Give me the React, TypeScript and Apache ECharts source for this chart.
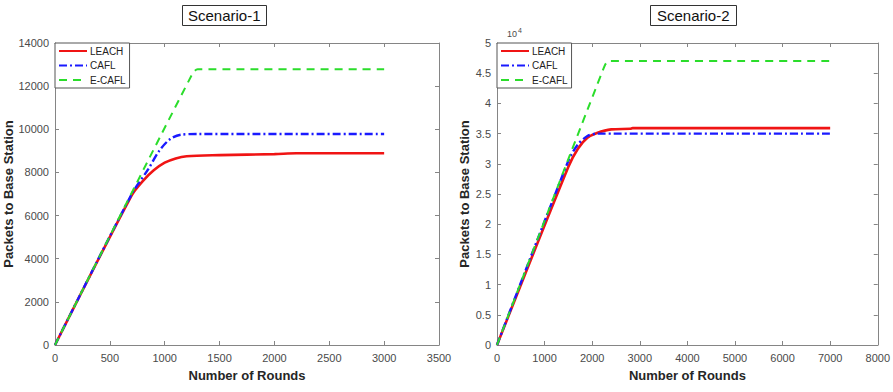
import React, { useEffect, useRef } from "react";
import * as echarts from "echarts";

// Scenario-1 data (rounds, packets)
const s1LeachRounds = [0, 700, 800, 900, 1000, 1100, 1200, 1500, 2000, 2200, 3000];
const s1LeachPackets = [0, 6950, 7600, 8100, 8450, 8650, 8750, 8800, 8850, 8890, 8890];
const s1CaflRounds = [0, 700, 850, 950, 1050, 1150, 1300, 3000];
const s1CaflPackets = [0, 7000, 8150, 9000, 9550, 9750, 9780, 9780];
const s1EcaflRounds = [0, 1250, 1300, 3000];
const s1EcaflPackets = [0, 12550, 12780, 12780];

// Scenario-2 data (rounds, packets)
const s2LeachRounds = [0, 1500, 1700, 1900, 2100, 2400, 2800, 2850, 7000];
const s2LeachPackets = [0, 29500, 32500, 34300, 35100, 35700, 35800, 35900, 35900];
const s2CaflRounds = [0, 1500, 1700, 1900, 2100, 7000];
const s2CaflPackets = [0, 30500, 33200, 34600, 35000, 35000];
const s2EcaflRounds = [0, 2250, 2350, 7000];
const s2EcaflPackets = [0, 46000, 47000, 47000];

const seriesNames = ["LEACH", "CAFL", "E-CAFL"];
const titles = ["Scenario-1", "Scenario-2"];

const zip = (xs: number[], ys: number[]) => xs.map((x, i) => [x, ys[i]]);

const AXIS_COLOR = "#858585";
const LABEL_COLOR = "#4a4a4a";
const FONT = "Arial, 'Liberation Sans', sans-serif";

const styles = [
  { color: "#f01414", type: "solid" as any, width: 2.6 },
  { color: "#1a1aff", type: [8, 3, 2, 3] as any, width: 2.4 },
  { color: "#2bdd2b", type: [8, 6] as any, width: 2 },
];

export default function App() {
  const ref = useRef<HTMLDivElement>(null);
  useEffect(() => {
    if (!ref.current) return;
    const chart = echarts.init(ref.current, undefined, { renderer: "svg" });

    const mkX = (gridIndex: number, max: number, interval: number, top: boolean) => ({
      type: "value",
      gridIndex,
      min: 0,
      max,
      interval,
      position: top ? "top" : "bottom",
      name: top ? "" : "Number of Rounds",
      nameLocation: "middle",
      nameGap: 24,
      nameTextStyle: { fontFamily: FONT, fontWeight: "bold", fontSize: 13, color: "#262626" },
      axisLine: { show: true, onZero: false, lineStyle: { color: AXIS_COLOR, width: 1 } },
      axisTick: { show: true, inside: true, length: 4, lineStyle: { color: AXIS_COLOR } },
      axisLabel: {
        show: !top,
        fontFamily: FONT,
        fontSize: 11,
        color: LABEL_COLOR,
        margin: 7,
        formatter: (v: number) => String(v),
      },
      splitLine: { show: false },
    });

    const mkY = (
      gridIndex: number,
      max: number,
      interval: number,
      right: boolean,
      nameGap: number,
      fmt?: (v: number) => string
    ) => ({
      type: "value",
      gridIndex,
      min: 0,
      max,
      interval,
      position: right ? "right" : "left",
      name: right ? "" : "Packets to Base Station",
      nameLocation: "middle",
      nameGap,
      nameTextStyle: { fontFamily: FONT, fontWeight: "bold", fontSize: 13, color: "#262626" },
      axisLine: { show: true, onZero: false, lineStyle: { color: AXIS_COLOR, width: 1 } },
      axisTick: { show: true, inside: true, length: 4, lineStyle: { color: AXIS_COLOR } },
      axisLabel: {
        show: !right,
        fontFamily: FONT,
        fontSize: 11,
        color: LABEL_COLOR,
        margin: 6,
        formatter: fmt || ((v: number) => String(v)),
      },
      splitLine: { show: false },
    });

    const mkSeries = (name: string, data: number[][], idx: number, axisIdx: number) => ({
      type: "line",
      name,
      data,
      xAxisIndex: axisIdx,
      yAxisIndex: axisIdx,
      showSymbol: false,
      symbol: "none",
      smooth: 0.3,
      lineStyle: { color: styles[idx].color, type: styles[idx].type, width: styles[idx].width },
      itemStyle: { color: styles[idx].color },
    });

    const mkLegend = (left: number, seriesIds: string[]) => ({
      data: seriesIds,
      orient: "vertical",
      left,
      top: 43,
      itemWidth: 28,
      itemHeight: 10,
      itemGap: 4.5,
      padding: [3, 4, 3, 3],
      backgroundColor: "#ffffff",
      borderColor: "#555",
      borderWidth: 1,
      borderRadius: 0,
      selectedMode: false,
      itemStyle: { opacity: 0 },
      textStyle: { fontFamily: FONT, fontSize: 10, color: "#222", padding: [0, 0, 0, -2] },
      formatter: (n: string) => n.slice(3),
    });

    chart.setOption({
      animation: false,
      backgroundColor: "#ffffff",
      title: [
        {
          text: titles[0],
          left: 182,
          top: 5,
          padding: [3, 6, 3, 6],
          borderColor: "#333",
          borderWidth: 1,
          textStyle: { fontFamily: FONT, fontSize: 15, fontWeight: "normal", color: "#111" },
        },
        {
          text: titles[1],
          left: 650,
          top: 5,
          padding: [3, 7, 3, 7],
          borderColor: "#333",
          borderWidth: 1,
          textStyle: { fontFamily: FONT, fontSize: 15, fontWeight: "normal", color: "#111" },
        },
      ],
      grid: [
        { left: 55, right: 454, top: 43, bottom: 47 },
        { left: 497, right: 12, top: 43, bottom: 47 },
      ],
      xAxis: [mkX(0, 3500, 500, false), mkX(0, 3500, 500, true), mkX(1, 8000, 1000, false), mkX(1, 8000, 1000, true)],
      yAxis: [
        mkY(0, 14000, 2000, false, 36),
        mkY(0, 14000, 2000, true, 0),
        mkY(1, 50000, 5000, false, 26, (v: number) => String(v / 10000)),
        mkY(1, 50000, 5000, true, 0),
      ],
      legend: [
        mkLegend(55, seriesNames.map((n) => "s1-" + n)),
        mkLegend(497, seriesNames.map((n) => "s2-" + n)),
      ],
      graphic: [
        {
          type: "text",
          left: 507,
          top: 27,
          style: {
            text: "10{s|4}",
            fontFamily: FONT,
            fontSize: 9,
            fill: LABEL_COLOR,
            rich: { s: { fontSize: 7, verticalAlign: "top", padding: [0, 0, 6, 1], fill: LABEL_COLOR } },
          },
        },
      ],
      series: [
        mkSeries("s1-" + seriesNames[0], zip(s1LeachRounds, s1LeachPackets), 0, 0),
        mkSeries("s1-" + seriesNames[1], zip(s1CaflRounds, s1CaflPackets), 1, 0),
        mkSeries("s1-" + seriesNames[2], zip(s1EcaflRounds, s1EcaflPackets), 2, 0),
        mkSeries("s2-" + seriesNames[0], zip(s2LeachRounds, s2LeachPackets), 0, 2),
        mkSeries("s2-" + seriesNames[1], zip(s2CaflRounds, s2CaflPackets), 1, 2),
        mkSeries("s2-" + seriesNames[2], zip(s2EcaflRounds, s2EcaflPackets), 2, 2),
      ],
    });
    return () => chart.dispose();
  }, []);

  return (
    <div
      ref={ref}
      style={{ position: "fixed", left: 0, top: 0, width: 893, height: 392, background: "#fff" }}
    />
  );
}
